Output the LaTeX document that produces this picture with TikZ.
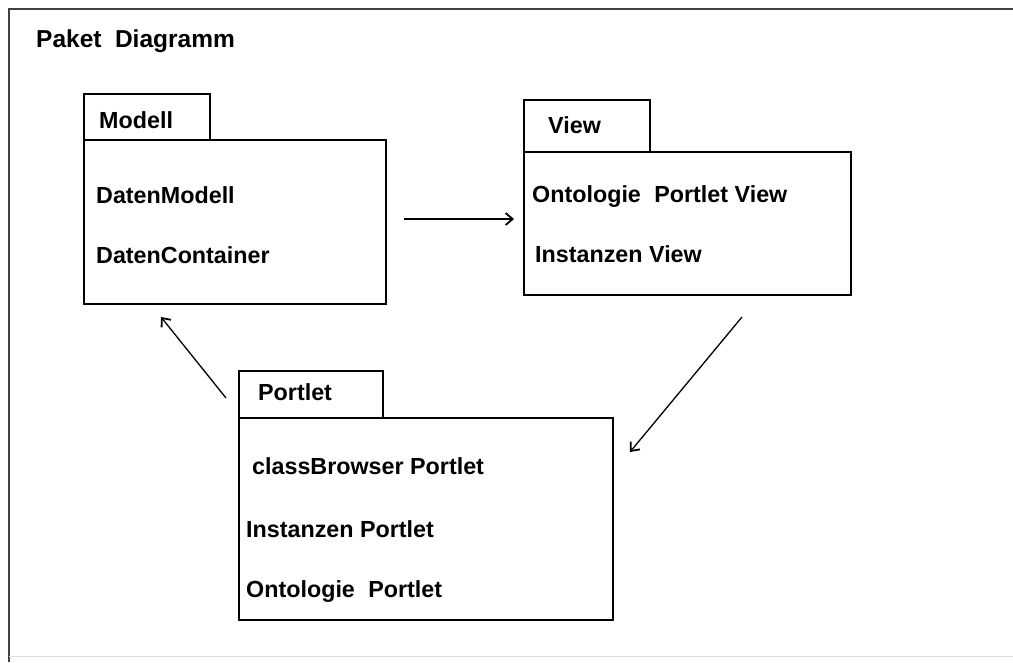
\documentclass[tikz,border=0pt]{standalone}
\usepackage{fontspec}
\setmainfont{Liberation Sans}
\usetikzlibrary{arrows.meta}
\begin{document}
\begin{tikzpicture}[x=1pt,y=-1pt,
  box/.style={draw=black,line width=1.8pt,inner sep=0pt,anchor=north west},
  lbl/.style={font=\fontsize{23.3}{27}\selectfont\bfseries,anchor=base west,inner sep=0pt},
  conn/.style={line width=1.3pt,-{Straight Barb[length=7pt,width=12pt,line width=1.8pt]}}]
\useasboundingbox (0,0) rectangle (1013,662);
\fill[white] (0,0) rectangle (1013,662);
% outer frame
\draw[line width=2.6pt,black!75] (9,662) -- (9,9) -- (1013,9);
\draw[line width=0.8pt,black!12] (9,656) -- (1013,656);
% title
\node[lbl,font=\fontsize{24.5}{28}\selectfont\bfseries] (title) at (36,47) {Paket\hspace{0.55em}Diagramm};
% Modell package
\node[box,minimum width=126pt,minimum height=46pt] (modelltab) at (83,93) {};
\node[box,minimum width=302pt,minimum height=164pt] (modell) at (83,139) {};
\node[lbl] (modellname) at (99,128) {Modell};
\node[lbl] (m1) at (96,203) {DatenModell};
\node[lbl] (m2) at (96,263) {DatenContainer};
% View package
\node[box,minimum width=126pt,minimum height=52pt] (viewtab) at (523,99) {};
\node[box,minimum width=327pt,minimum height=143pt] (view) at (523,151) {};
\node[lbl] (viewname) at (548,133) {View};
\node[lbl] (v1) at (532,202) {Ontologie\hspace{0.3em} Portlet View};
\node[lbl] (v2) at (535,262) {Instanzen View};
% Portlet package
\node[box,minimum width=144pt,minimum height=47pt] (portlettab) at (238,370) {};
\node[box,minimum width=374pt,minimum height=202pt] (portlet) at (238,417) {};
\node[lbl] (portletname) at (258,400) {Portlet};
\node[lbl] (p1) at (252,474) {classBrowser Portlet};
\node[lbl] (p2) at (246,537) {Instanzen Portlet};
\node[lbl] (p3) at (246,597) {Ontologie\hspace{0.3em} Portlet};
% connector end points
\coordinate (a1s) at (404,219);
\coordinate (a1e) at (514,219);
\coordinate (a2s) at (742,317);
\coordinate (a2e) at (630,452);
\coordinate (a3s) at (226,398);
\coordinate (a3e) at (161,317);
\draw[conn] (a1s) -- (a1e);
\draw[conn] (a2s) -- (a2e);
\draw[conn] (a3s) -- (a3e);
\end{tikzpicture}
\end{document}
